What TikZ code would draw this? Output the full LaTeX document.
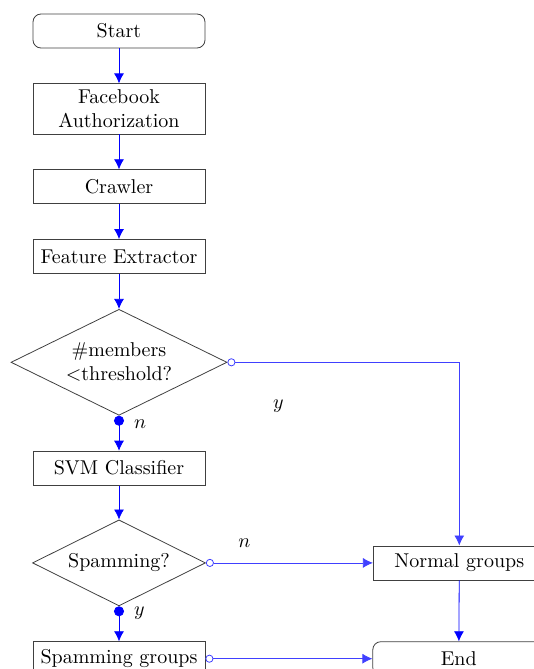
\documentclass[tikz,border=0pt]{standalone}
\usetikzlibrary{arrows.meta,shapes,positioning,calc}

\begin{document}
\begin{tikzpicture}[
    node distance=17.5pt,
    block/.style={rectangle,draw=black!75,minimum width=86pt,minimum height=17pt,align=center},
    terminal/.style={block,rounded corners=4pt},
    decision/.style={diamond,draw=black!75,align=center,inner sep=0pt,shape aspect=2},
    arrow/.style={-{Latex[length=5pt,width=5pt]},blue,text=black},
    yesarrow/.style={{Circle[length=5pt]}-{Latex[length=5pt,width=5pt]},blue,text=black},
    noarrow/.style={{Circle[open,length=4pt,fill=white]}-{Latex[length=5pt,width=5pt]},blue!75,text=black}
]
    \clip (0,0) rectangle (267pt,-334.5pt);

    \node[terminal] (start) at (59.5pt,-15.5pt) {Start};
    \node[block,inner ysep=3pt,below=of start] (auth) {Facebook\\Authorization};
    \node[block,below=of auth] (crawler) {Crawler};
    \node[block,below=of crawler] (extractor) {Feature Extractor};
    \node[decision,minimum width=108pt,minimum height=53pt,below=of extractor] (members) {\#members\\$<$threshold?};
    \node[block,below=of members] (svm) {SVM Classifier};
    \node[decision,minimum width=86.5pt,minimum height=43pt,below=17pt of svm] (spamming) {Spamming?};
    \node[block,below=of spamming] (spamgroups) {Spamming groups};
    \node[block,right=83.5pt of spamming] (normal) {Normal groups};
    \node[terminal,right=83.5pt of spamgroups] (end) {End};

    \draw[arrow] (start) -- (auth);
    \draw[arrow] (auth) -- (crawler);
    \draw[arrow] (crawler) -- (extractor);
    \draw[arrow] (extractor) -- (members);
    \draw[yesarrow] (members) -- node[pos=0.25,right=4pt] {$n$} (svm);
    \draw[noarrow] (members.east) -| node[pos=0.11,yshift=-22pt] {$y$} (normal.north);
    \draw[arrow] (svm) -- (spamming);
    \draw[yesarrow] (spamming) -- node[pos=0.2,right=4pt] {$y$} (spamgroups);
    \draw[noarrow] (spamming.east) -- node[pos=0.23,yshift=10pt] {$n$} (normal);
    \draw[noarrow] (spamgroups) -- (end);
    \draw[arrow] (normal) -- (end);
\end{tikzpicture}
\end{document}
